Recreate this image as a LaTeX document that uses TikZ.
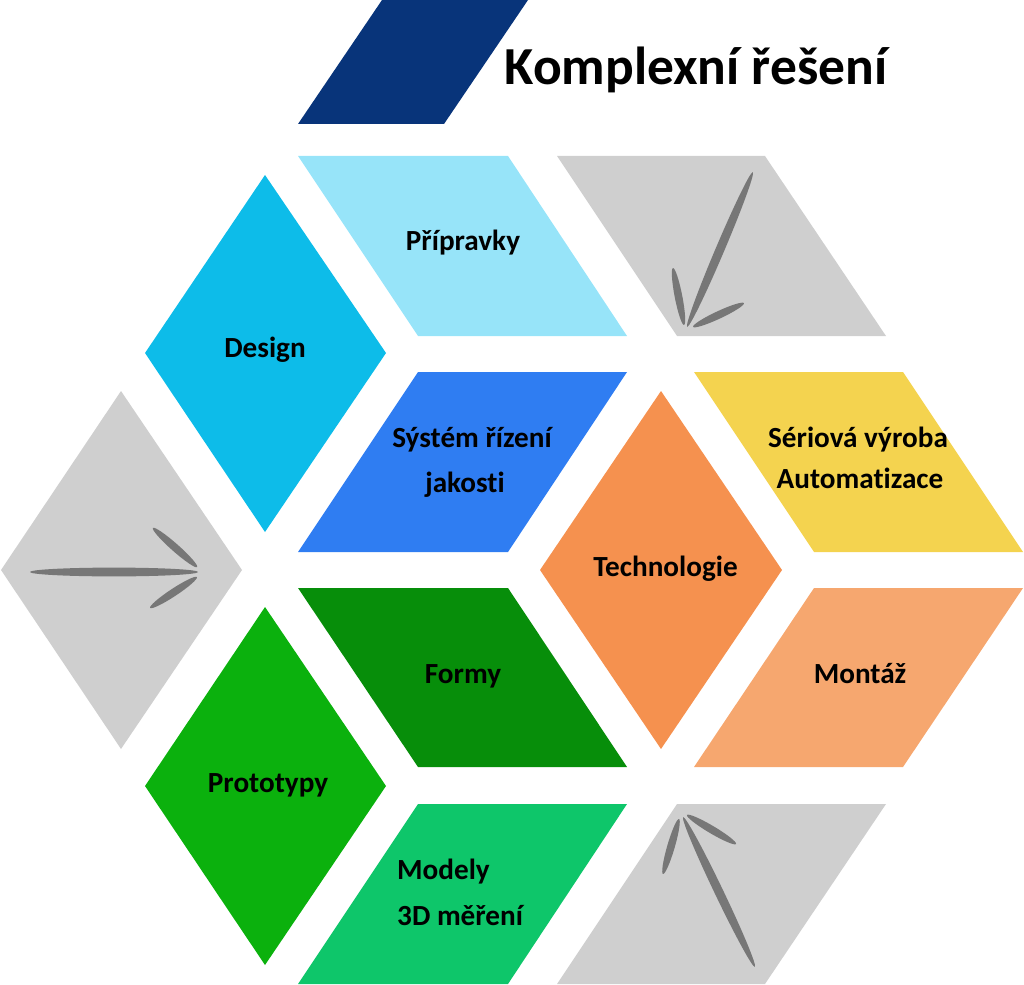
\documentclass[tikz,border=0pt]{standalone}
\usepackage{fontspec}
\setmainfont[Ligatures=NoCommon]{Carlito}
\definecolor{titleblue}{HTML}{08347A}
\definecolor{lightblue}{HTML}{97E4F9}
\definecolor{tilegray}{HTML}{CFCFCF}
\definecolor{leafgray}{HTML}{777777}
\definecolor{designblue}{HTML}{0DBCE9}
\definecolor{sysblue}{HTML}{2F7DF2}
\definecolor{techorange}{HTML}{F5914F}
\definecolor{serialyellow}{HTML}{F4D34F}
\definecolor{montorange}{HTML}{F6A76F}
\definecolor{formgreen}{HTML}{078E0A}
\definecolor{protogreen}{HTML}{0BB10D}
\definecolor{modelgreen}{HTML}{0EC66A}
\tikzset{
  lbl/.style={font=\bfseries\fontsize{29.2}{34}\selectfont, anchor=base, inner sep=0pt, text=black},
  titlelbl/.style={font=\bfseries\fontsize{53.5}{60}\selectfont, anchor=base, inner sep=0pt, text=black},
  leaf/.style={fill=leafgray},
}
\begin{document}
\begin{tikzpicture}[x=1pt,y=-1pt]
\useasboundingbox (0,0) rectangle (1024,984);
% title bar
\fill[titleblue] (298,124) -- (444,124) -- (528,0) -- (382,0) -- cycle;
\node[titlelbl] (title) at (696,85) {Komplexní řešení};
% top row
\fill[lightblue] (298,156) -- (508,156) -- (627,336) -- (418,336) -- cycle;
\fill[tilegray] (557,156) -- (765,156) -- (886,336) -- (677,336) -- cycle;
% design diamond
\fill[designblue] (265,175) -- (386,353) -- (265,532) -- (145,353) -- cycle;
% left gray diamond
\fill[tilegray] (121,391) -- (242,570) -- (121,749) -- (1,570) -- cycle;
% system
\fill[sysblue] (418,372) -- (627,372) -- (508,552) -- (298,552) -- cycle;
% technologie
\fill[techorange] (661,391) -- (782,570) -- (661,749) -- (540,570) -- cycle;
% seriova
\fill[serialyellow] (694,372) -- (903,372) -- (1023,552) -- (814,552) -- cycle;
% montaz
\fill[montorange] (814,588) -- (1023,588) -- (903,767) -- (694,767) -- cycle;
% formy
\fill[formgreen] (298,588) -- (508,588) -- (627,767) -- (418,767) -- cycle;
% prototypy
\fill[protogreen] (265,607) -- (386,786) -- (265,965) -- (145,786) -- cycle;
% modely
\fill[modelgreen] (418,804) -- (627,804) -- (508,984) -- (298,984) -- cycle;
% bottom gray
\fill[tilegray] (677,804) -- (886,804) -- (765,984) -- (557,984) -- cycle;
% arrows (leaves)
\fill[leaf, rotate around={67:(720,249.5)}] (720,249.5) ellipse [x radius=84, y radius=4.4];
\fill[leaf, rotate around={101:(678.5,296.5)}] (678.5,296.5) ellipse [x radius=29, y radius=3.8];
\fill[leaf, rotate around={25:(718.5,315)}] (718.5,315) ellipse [x radius=28, y radius=3.8];
\fill[leaf] (114,572) ellipse [x radius=84, y radius=4.4];
\fill[leaf, rotate around={-41.5:(175,547.5)}] (175,547.5) ellipse [x radius=29.5, y radius=3.8];
\fill[leaf, rotate around={33.4:(173.5,592.5)}] (173.5,592.5) ellipse [x radius=28, y radius=3.8];
\fill[leaf, rotate around={-64.4:(719,892)}] (719,892) ellipse [x radius=83, y radius=4.4];
\fill[leaf, rotate around={73.8:(671,846.5)}] (671,846.5) ellipse [x radius=28.6, y radius=3.8];
\fill[leaf, rotate around={-30.6:(711.5,829.5)}] (711.5,829.5) ellipse [x radius=28.5, y radius=3.8];
% labels
\node[lbl] (pripravky) at (463,251) {Přípravky};
\node[lbl] (design) at (265,357.5) {Design};
\node[lbl] (sys1) at (472,447) {Sýstém řízení};
\node[lbl] (sys2) at (465,492) {jakosti};
\node[lbl] (tech) at (665.5,576) {Technologie};
\node[lbl] (ser1) at (858,447) {Sériová výroba};
\node[lbl] (ser2) at (860,488) {Automatizace};
\node[lbl] (montaz) at (860,683) {Montáž};
\node[lbl] (formy) at (463,683) {Formy};
\node[lbl] (proto) at (268,792) {Prototypy};
\node[lbl, anchor=base west] (mod1) at (397,879) {Modely};
\node[lbl, anchor=base west] (mod2) at (397,925) {3D měření};
\end{tikzpicture}
\end{document}
